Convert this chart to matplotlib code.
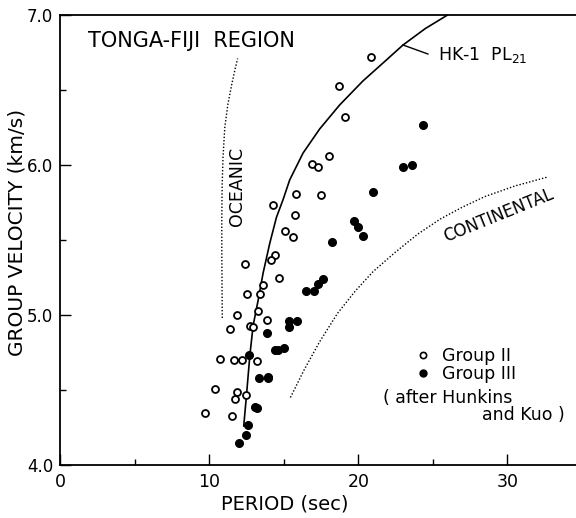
import matplotlib
matplotlib.use("Agg")
import matplotlib.pyplot as plt
from matplotlib.lines import Line2D

# Group II (open circles): period (s), group velocity (km/s)
g2_period = [20.84, 18.72, 19.09, 18.05, 16.91, 17.33, 15.85, 17.48, 14.25, 15.73,
             15.06, 15.65, 14.42, 14.15, 12.40, 14.67, 13.60, 13.43, 12.52, 13.26,
             13.85, 11.88, 11.43, 12.77, 12.94, 10.74, 11.70, 12.22, 13.23, 10.42,
             11.88, 11.73, 12.44, 9.75, 11.56]
g2_velocity = [6.72, 6.53, 6.32, 6.06, 6.01, 5.99, 5.81, 5.80, 5.73, 5.67,
               5.56, 5.52, 5.40, 5.37, 5.34, 5.25, 5.20, 5.14, 5.14, 5.03,
               4.97, 5.00, 4.91, 4.93, 4.92, 4.71, 4.70, 4.70, 4.69, 4.51,
               4.49, 4.44, 4.47, 4.35, 4.33]

# Group III (filled circles)
g3_period = [24.37, 23.63, 22.99, 21.01, 19.70, 19.95, 20.35, 18.27, 17.63, 17.33,
             17.04, 16.47, 15.90, 15.36, 15.36, 13.85, 14.40, 14.62, 15.04, 12.69,
             13.93, 13.95, 13.33, 13.06, 13.19, 12.59, 12.47, 11.98]
g3_velocity = [6.27, 6.00, 5.99, 5.82, 5.63, 5.59, 5.53, 5.49, 5.24, 5.21,
               5.16, 5.16, 4.96, 4.96, 4.92, 4.88, 4.77, 4.77, 4.78, 4.73,
               4.59, 4.58, 4.58, 4.39, 4.38, 4.27, 4.20, 4.15]

# HK-1 PL21 model curve
hk_period = [12.32, 12.50, 12.73, 12.95, 13.29, 13.62, 14.07, 14.51, 14.96, 15.40,
             16.30, 17.41, 18.75, 20.31, 21.66, 23.00, 24.50, 25.99]
hk_velocity = [4.26, 4.46, 4.73, 4.93, 5.10, 5.28, 5.48, 5.65, 5.77, 5.90,
               6.08, 6.24, 6.40, 6.56, 6.68, 6.80, 6.91, 7.00]

# Oceanic and continental reference curves (dotted)
oce_period = [10.88, 10.85, 10.85, 10.87, 10.93, 11.05, 11.25, 11.50, 11.72, 11.91]
oce_velocity = [4.98, 5.40, 5.65, 5.85, 6.05, 6.25, 6.40, 6.53, 6.63, 6.71]

con_period = [15.45, 16.40, 17.40, 18.60, 19.80, 21.00, 22.50, 24.00, 25.50, 27.00,
              28.50, 30.50, 32.70]
con_velocity = [4.45, 4.64, 4.82, 5.01, 5.16, 5.29, 5.42, 5.54, 5.64, 5.72,
                5.79, 5.86, 5.92]

# leader line to the HK-1 label
lead_period = [23.00, 24.67]
lead_velocity = [6.80, 6.74]

x_ticks = [0, 10, 20, 30]
y_ticks = [4.0, 5.0, 6.0, 7.0]
y_tick_labels = ["4.0", "5.0", "6.0", "7.0"]

plt.rcParams['font.family'] = 'DejaVu Sans'
plt.rcParams['mathtext.fontset'] = 'dejavusans'

fig = plt.figure(figsize=(5.76, 5.18), dpi=100)
ax = fig.add_axes([60 / 576, 53 / 518, 516 / 576, 450 / 518])

ax.plot(hk_period, hk_velocity, color='black', lw=1.2)
ax.plot(lead_period, lead_velocity, color='black', lw=1.0)
ax.plot(oce_period, oce_velocity, color='black', lw=1.0, linestyle=(0, (1, 1.4)))
ax.plot(con_period, con_velocity, color='black', lw=1.0, linestyle=(0, (1, 1.4)))

ax.plot(g2_period, g2_velocity, 'o', mfc='white', mec='black', ms=5, mew=1.3,
        linestyle='none')
ax.plot(g3_period, g3_velocity, 'o', color='black', ms=5.5, linestyle='none')

ax.set_xlim(0, 34.6)
ax.set_ylim(4.0, 7.0)
ax.set_xticks(x_ticks)
ax.set_xticks([5, 15, 25], minor=True)
ax.set_yticks(y_ticks)
ax.set_yticklabels(y_tick_labels)
ax.set_yticks([4.5, 5.5, 6.5], minor=True)
ax.tick_params(which='major', direction='in', length=8, width=1.0, labelsize=12.5)
ax.tick_params(which='minor', direction='in', length=4, width=1.0)
ax.tick_params(axis='x', pad=6)
ax.tick_params(axis='y', pad=5, labelsize=12)

ax.spines['right'].set_visible(False)
for s in ['left', 'bottom', 'top']:
    ax.spines[s].set_linewidth(1.3)

ax.set_xlabel("PERIOD (sec)", fontsize=14)
ax.xaxis.set_label_coords(0.435, -0.066)
ax.set_ylabel("GROUP VELOCITY (km/s)", fontsize=14.5)
ax.yaxis.set_label_coords(-0.064, 0.516)

ax.text(1.88, 6.787, "TONGA-FIJI  REGION", fontsize=15, va='baseline', ha='left')
ax.text(11.86, 5.855, "OCEANIC", fontsize=12.5, rotation=90, ha='center', va='center')
ax.text(29.4, 5.663, "CONTINENTAL", fontsize=12, rotation=22, ha='center', va='center',
        rotation_mode='anchor')
ax.text(25.38, 6.733, "HK-1  PL$_{21}$", fontsize=12.5, ha='left', va='center')

handles = [Line2D([], [], marker='o', mfc='white', mec='black', ms=4.5, mew=1.2, linestyle='none'),
           Line2D([], [], marker='o', color='black', ms=5, linestyle='none')]
ax.legend(handles, ["Group II", "Group III"], loc='upper left',
          bbox_to_anchor=(416 / 576, 1 - 347 / 518), bbox_transform=fig.transFigure,
          frameon=False, fontsize=12.5, handlelength=0.8, handletextpad=0.7,
          labelspacing=0.0, borderpad=0, borderaxespad=0)

ax.text(21.63, 4.448, "( after Hunkins", fontsize=12.5, ha='left', va='center')
ax.text(33.82, 4.332, "and Kuo )", fontsize=12.5, ha='right', va='center')

plt.savefig('out.png', dpi=100)
plt.close()
